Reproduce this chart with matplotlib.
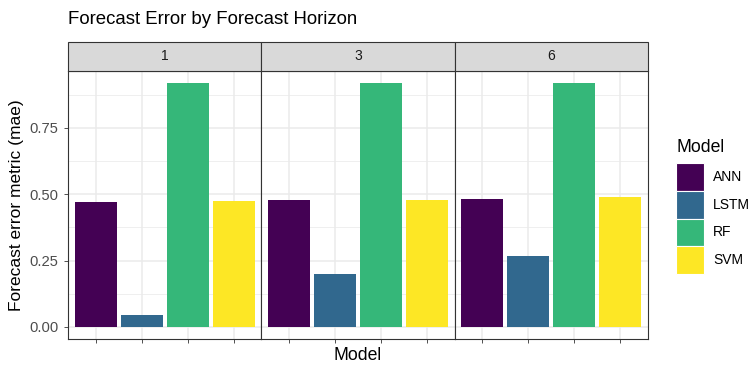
import matplotlib
matplotlib.use("Agg")
import matplotlib.pyplot as plt
from matplotlib.patches import Rectangle
import numpy as np

plt.rcParams['font.family'] = ['Liberation Sans', 'DejaVu Sans']

models = ["ANN", "LSTM", "RF", "SVM"]
horizons = ["1", "3", "6"]
mae_h1 = [0.471, 0.044, 0.919, 0.476]
mae_h3 = [0.480, 0.198, 0.919, 0.480]
mae_h6 = [0.483, 0.266, 0.919, 0.491]
values = [mae_h1, mae_h3, mae_h6]
colors = ["#440154", "#31688E", "#35B779", "#FDE725"]
yticks = [0.0, 0.25, 0.5, 0.75]
ytick_labels = ["0.00", "0.25", "0.50", "0.75"]

W, H = 754, 365
fig = plt.figure(figsize=(W / 100, H / 100), dpi=100)

left_px, right_px = 68.3, 647.7
top_px, bot_px = 71.0, 339.0
strip_top_px = 41.7
pw = (right_px - left_px) / 3

ymax = max(max(v) for v in values)
ylim = (-0.05 * ymax, ymax * 1.05)
edge = "#333333"
grid = "#EBEBEB"

axes = []
for i, (h, vals) in enumerate(zip(horizons, values)):
    x0 = left_px + i * pw
    ax = fig.add_axes([x0 / W, (H - bot_px) / H, pw / W, (bot_px - top_px) / H])
    x = np.arange(1, len(models) + 1)
    ax.bar(x, vals, width=0.9, color=colors, zorder=3)
    ax.set_xlim(0.4, 4.6)
    ax.set_ylim(*ylim)
    ax.set_yticks(yticks)
    ax.set_yticks([0.125, 0.375, 0.625, 0.875], minor=True)
    ax.set_xticks(x)
    ax.set_xticklabels([])
    ax.grid(True, which="major", color=grid, lw=1.1, zorder=0)
    ax.grid(True, which="minor", axis="y", color=grid, lw=0.55, zorder=0)
    ax.tick_params(axis="x", which="major", length=3, width=0.6, color=edge)
    ax.tick_params(axis="y", which="minor", length=0)
    if i == 0:
        ax.set_yticklabels(ytick_labels)
        ax.tick_params(axis="y", which="major", length=3, width=0.6, color=edge,
                       labelsize=10.6, labelcolor="#4D4D4D", pad=4)
    else:
        ax.tick_params(axis="y", which="major", length=0, labelleft=False)
    for s in ax.spines.values():
        s.set_color(edge)
        s.set_linewidth(0.8)
    # strip
    sh = (top_px - strip_top_px) / (bot_px - top_px)
    ax.add_patch(Rectangle((0, 1), 1, sh, transform=ax.transAxes, facecolor="#D9D9D9",
                           edgecolor=edge, lw=0.8, clip_on=False, zorder=5))
    ax.text(0.5, 1 + sh / 2, h, transform=ax.transAxes, ha="center", va="center",
            fontsize=10, color="#1A1A1A", zorder=6)
    axes.append(ax)

fig.text(68 / W, 1 - 20 / H, "Forecast Error by Forecast Horizon", ha="left", va="center",
         fontsize=13.4, color="black")
fig.text((left_px + right_px) / 2 / W, 1 - 355 / H, "Model", ha="center", va="center",
         fontsize=12.7, color="black")
fig.text(17 / W, 1 - 205 / H, "Forecast error metric (mae)", ha="center", va="center",
         rotation=90, fontsize=12.5, color="black")

# legend
fig.text(676 / W, 1 - 148 / H, "Model", ha="left", va="center", fontsize=12.7)
key_w, key_h = 28, 27.8
ky0 = 163
for j, (m, c) in enumerate(zip(models, colors)):
    y = ky0 + j * key_h
    fig.add_artist(Rectangle((676 / W, 1 - (y + key_h) / H), key_w / W, key_h / H,
                             transform=fig.transFigure, facecolor=c, edgecolor="white", lw=0.8))
    fig.text(713 / W, 1 - (y + key_h / 2) / H, m, ha="left", va="center", fontsize=10)

fig.savefig("out.png", dpi=100)
